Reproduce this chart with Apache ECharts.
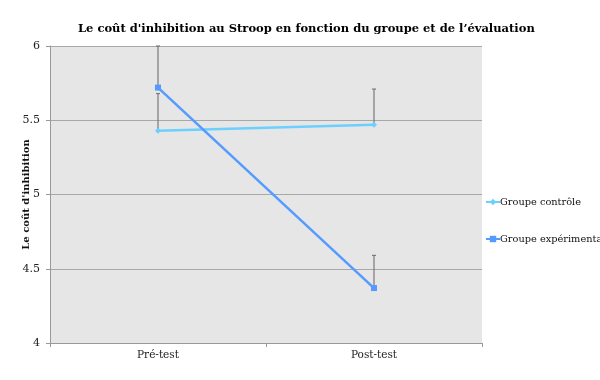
<!DOCTYPE html>
<html><head><meta charset="utf-8">
<script src="https://cdn.jsdelivr.net/npm/echarts@6/dist/echarts.min.js"></script>
<style>html,body{margin:0;padding:0;background:#fff}#c{width:600px;height:380px}</style>
</head><body><div id="c"></div>
<script>
const categories = ['Pré-test', 'Post-test'];
const controleValues = [5.43, 5.47];
const controleErrors = [0.25, 0.24];
const experimentalValues = [5.72, 4.37];
const experimentalErrors = [0.28, 0.22];
const yTicks = [4, 4.5, 5, 5.5, 6];

const FONT = 'DejaVu Serif';
const colCtrl = '#6cd0ff';
const colExp = '#559bff';

function errSeries(vals, errs, z) {
  return {
    type: 'custom', z: z, silent: true,
    data: vals.map((v, i) => [i, v, errs[i]]),
    renderItem: function (params, api) {
      const x = api.value(0), v = api.value(1), e = api.value(2);
      const p0 = api.coord([x, v]);
      const p1 = api.coord([x, v + e]);
      const style = { stroke: '#7a7a7a', lineWidth: 1.2 };
      return { type: 'group', children: [
        { type: 'line', shape: { x1: p0[0], y1: p0[1], x2: p1[0], y2: p1[1] }, style: style },
        { type: 'line', shape: { x1: p1[0] - 2, y1: p1[1], x2: p1[0] + 2, y2: p1[1] }, style: style }
      ]};
    }
  };
}

const chart = echarts.init(document.getElementById('c'));
chart.setOption({
  animation: false,
  title: {
    text: "Le coût d'inhibition au Stroop en fonction du groupe et de l’évaluation",
    left: 73, top: 18,
    textStyle: { fontFamily: FONT, fontSize: 11.5, fontWeight: 'bold', color: '#000' }
  },
  legend: {
    orient: 'vertical', left: 480, top: 192, itemGap: 27,
    itemWidth: 14, itemHeight: 8,
    textStyle: { fontFamily: FONT, fontSize: 9.8, color: '#111', padding: [0,0,0,-5] },
    data: ['Groupe contrôle', 'Groupe expérimental']
  },
  grid: { left: 50, right: 118, top: 46, bottom: 37, show: true, backgroundColor: '#e6e6e6', borderWidth: 0, outerBoundsMode: 'none', containLabel: false },
  xAxis: {
    type: 'category', data: categories, boundaryGap: true,
    axisLine: { lineStyle: { color: '#999' } },
    axisTick: { show: true, length: 4, lineStyle: { color: '#999' } },
    axisLabel: { fontFamily: FONT, fontSize: 10.5, color: '#222', margin: 7 }
  },
  yAxis: {
    type: 'value', min: yTicks[0], max: yTicks[yTicks.length - 1], interval: 0.5,
    name: "Le coût d'inhibition", nameLocation: 'middle', nameGap: 19, nameMoveOverlap: false,
    nameTextStyle: { fontFamily: FONT, fontSize: 10, fontWeight: 'bold', color: '#111' },
    axisLine: { show: true, lineStyle: { color: '#999' } },
    axisTick: { show: true, length: 4, lineStyle: { color: '#999' } },
    splitLine: { lineStyle: { color: '#a8a8a8' } },
    axisLabel: { fontFamily: FONT, fontSize: 11, color: '#222', margin: 10 }
  },
  series: [
    errSeries(controleValues, controleErrors, 1),
    errSeries(experimentalValues, experimentalErrors, 1),
    { name: 'Groupe contrôle', type: 'line', data: controleValues, z: 3,
      symbol: 'diamond', symbolSize: 6, itemStyle: { color: colCtrl },
      lineStyle: { color: colCtrl, width: 2.5 } },
    { name: 'Groupe expérimental', type: 'line', data: experimentalValues, z: 4,
      symbol: 'rect', symbolSize: 6, itemStyle: { color: colExp },
      lineStyle: { color: colExp, width: 2.5 } }
  ]
});
</script></body></html>
